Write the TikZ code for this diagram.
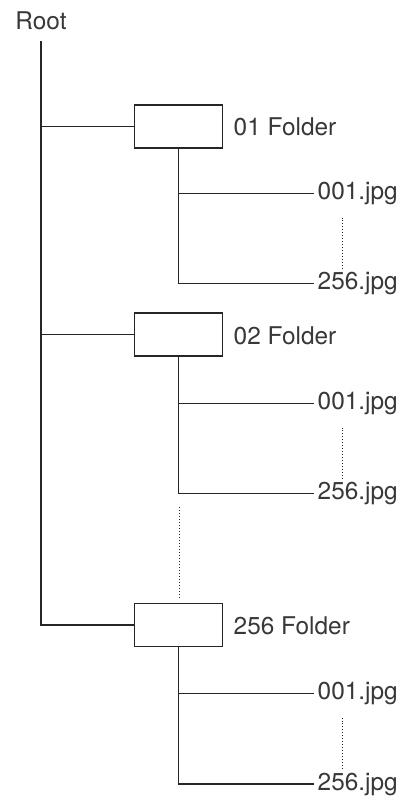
\documentclass[tikz,border=0pt]{standalone}
\usepackage{fontspec}
\setmainfont{TeX Gyre Heros}
\definecolor{ink}{HTML}{262626}
\definecolor{tink}{HTML}{383838}
\begin{document}
\begin{tikzpicture}[x=1bp,y=-1bp,line width=1.4bp,draw=ink,
  txt/.style={text=tink,font=\fontsize{24.5}{28}\selectfont,inner sep=0pt},
  folderbox/.style={draw=ink,minimum width=88bp,minimum height=43bp,inner sep=0pt},
  lbl/.style={txt,anchor=west},
  dotline/.style={dotted,line width=1bp}]
\useasboundingbox[fill=white] (0,0) rectangle (406,800);
\node[txt] (root) at (41,21) {Root};
\coordinate (rtop) at (41,41);
% folders
\node[folderbox] (f1) at (178.5,126.5) {};
\node[folderbox] (f2) at (178.5,334.5) {};
\node[folderbox] (f3) at (178.5,625) {};
\node[lbl] (l1) at (233,127) {01 Folder};
\node[lbl] (l2) at (233,335.5) {02 Folder};
\node[lbl] (l3) at (233,625.5) {256 Folder};
% files
\node[lbl] (a1) at (317,193.5) {001.jpg};
\node[lbl] (b1) at (317,283.5) {256.jpg};
\node[lbl] (a2) at (317,403.5) {001.jpg};
\node[lbl] (b2) at (317,493.5) {256.jpg};
\node[lbl] (a3) at (317,693.5) {001.jpg};
\node[lbl] (b3) at (317,784) {256.jpg};
% root trunk
\draw (rtop) -- (rtop|-f3.west) -- (f3.west);
\draw (rtop|-f1.west) -- (f1.west);
\draw (rtop|-f2.west) -- (f2.west);
% folder branches
\foreach \i in {1,2,3}{
  \draw (f\i.south) -- (f\i.south|-b\i.west) -- ([xshift=-3bp]b\i.west);
  \draw (f\i.south|-a\i.west) -- ([xshift=-3bp]a\i.west);
  \draw[dotline] ([xshift=25bp,yshift=-24bp]a\i.west) -- ([xshift=25bp,yshift=15bp]b\i.west);
}
\coordinate (d1) at (179,507);
\coordinate (d2) at (179,598);
\draw[dotline] (d1) -- (d2);
\end{tikzpicture}
\end{document}
